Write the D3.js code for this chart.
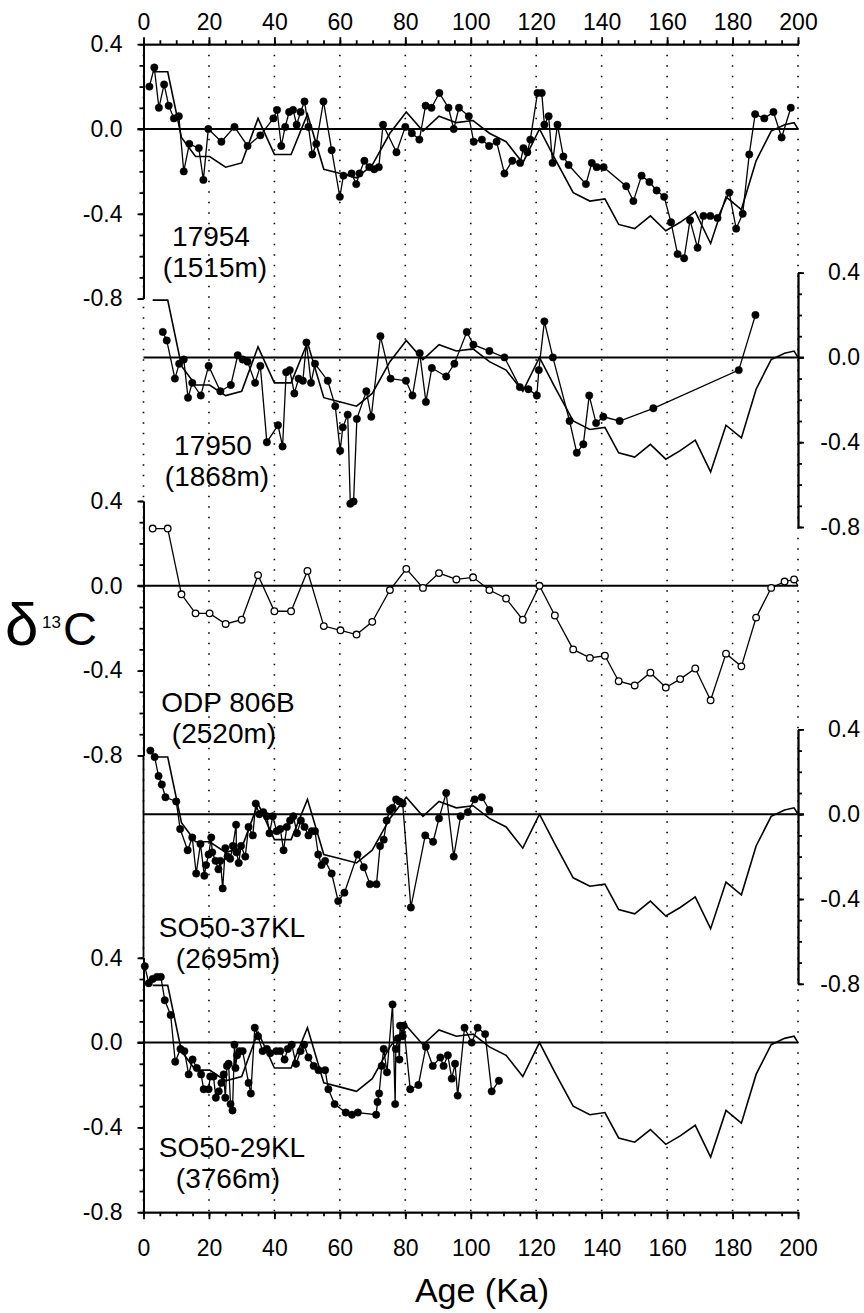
<!DOCTYPE html>
<html>
<head>
<meta charset="utf-8">
<script src="https://cdn.jsdelivr.net/npm/d3@7"></script>
<style>
  body { margin: 0; background: #fff; }
  text { font-family: "Liberation Sans", Arial, sans-serif; fill: #000; }
</style>
</head>
<body>
<div id="chart"></div>
<script>
// age axis ticks (ka)
var ageTicks = [0, 20, 40, 60, 80, 100, 120, 140, 160, 180, 200];
var ageMinorTicks = d3.range(0, 201, 5);
// d13C ticks, same for every panel
var d13cTicks = [0.4, 0.0, -0.4, -0.8];
var d13cMinorTicks = [0.4, 0.3, 0.2, 0.1, 0.0, -0.1, -0.2, -0.3, -0.4, -0.5, -0.6, -0.7, -0.8];

// ODP 806B (2520m) - also drawn as the reference line in the other panels
var odp806B = [
  [2.8, 0.27], [7.4, 0.27], [11.6, -0.04], [15.9, -0.13], [20.2, -0.13], [25.1, -0.18],
  [30.0, -0.16], [35.0, 0.05], [40.0, -0.12], [45.1, -0.12], [50.1, 0.07], [55.1, -0.19],
  [60.2, -0.21], [65.1, -0.23], [69.9, -0.17], [75.3, -0.02], [80.3, 0.08], [85.4, -0.01],
  [90.3, 0.06], [95.6, 0.03], [100.7, 0.04], [105.7, -0.02], [110.8, -0.06], [115.9, -0.16],
  [121.0, 0.0], [125.7, -0.14], [131.3, -0.30], [136.4, -0.34], [141.0, -0.33], [145.2, -0.45],
  [150.1, -0.47], [154.9, -0.41], [159.6, -0.48], [164.0, -0.44], [168.6, -0.39], [173.3, -0.54],
  [178.0, -0.32], [182.7, -0.38], [187.2, -0.15], [191.8, -0.01], [195.9, 0.02], [198.8, 0.03],
  [200.0, 0.0]
];

// 17954 (1515m)
var core17954 = [
  [1.8, 0.20], [3.3, 0.29], [4.7, 0.10], [6.3, 0.21], [7.7, 0.11], [9.3, 0.05], [10.8, 0.06],
  [12.3, -0.20], [14.0, -0.07], [16.9, -0.09], [18.3, -0.24], [19.8, 0.0], [23.8, -0.06],
  [27.8, 0.01], [31.8, -0.08], [35.7, -0.03], [39.7, 0.05], [40.8, 0.09], [42.1, -0.08],
  [43.3, 0.01], [44.5, 0.08], [45.7, 0.09], [46.8, 0.02], [48.0, 0.08], [49.2, 0.13],
  [50.4, 0.01], [51.6, -0.12], [52.8, -0.07], [55.0, 0.13], [57.5, -0.10], [60.0, -0.32],
  [61.1, -0.22], [63.6, -0.21], [65.0, -0.26], [66.0, -0.21], [67.5, -0.15], [69.0, -0.18],
  [70.5, -0.19], [71.9, -0.18], [73.2, 0.02], [77.3, -0.11], [80.0, 0.01], [82.0, -0.02],
  [84.3, -0.05], [86.2, 0.11], [88.0, 0.10], [90.4, 0.17], [93.2, 0.10], [94.8, 0.0],
  [96.4, 0.10], [99.4, 0.06], [100.9, -0.06], [103.4, -0.05], [105.6, -0.08], [107.9, -0.06],
  [110.3, -0.21], [112.7, -0.15], [115.1, -0.16], [116.1, -0.09], [117.3, -0.11], [118.2, -0.05],
  [120.4, 0.17], [121.7, 0.17], [122.5, 0.02], [123.8, 0.06], [125.0, -0.16], [126.5, 0.02],
  [128.3, -0.13], [129.9, -0.17], [135.2, -0.26], [137.0, -0.16], [138.5, -0.18], [140.6, -0.18],
  [147.5, -0.27], [149.7, -0.34], [152.2, -0.22], [154.6, -0.25], [156.8, -0.29], [159.1, -0.32],
  [161.2, -0.44], [163.2, -0.59], [165.2, -0.61], [167.0, -0.43], [169.3, -0.56], [171.1, -0.41],
  [173.2, -0.41], [175.4, -0.42], [179.0, -0.30], [181.1, -0.47], [183.1, -0.40], [185.1, -0.12],
  [186.9, 0.07], [189.7, 0.05], [192.5, 0.08], [195.0, -0.04], [197.8, 0.10]
];

// 17950 (1868m)
var core17950 = [
  [5.9, 0.12], [7.1, 0.08], [9.6, -0.10], [10.9, -0.03], [12.3, -0.01], [13.6, -0.19],
  [14.9, -0.12], [17.5, -0.18], [19.9, -0.04], [23.5, -0.16], [26.7, -0.13], [28.8, 0.01],
  [30.3, -0.01], [31.8, -0.02], [34.1, -0.12], [35.7, -0.04], [37.7, -0.40], [41.1, -0.32],
  [42.5, -0.42], [43.6, -0.07], [44.7, -0.06], [46.1, -0.17], [47.4, -0.10], [48.7, -0.11],
  [49.8, 0.07], [51.2, -0.12], [52.4, -0.03], [56.3, -0.11], [58.6, -0.23], [60.1, -0.44],
  [60.9, -0.33], [62.4, -0.27], [63.2, -0.69], [64.2, -0.68], [65.2, -0.29], [68.1, -0.16],
  [69.6, -0.28], [72.4, 0.10], [75.5, -0.10], [80.2, -0.11], [82.2, -0.18], [84.4, 0.02],
  [86.3, -0.21], [88.1, -0.05], [92.5, -0.09], [95.0, -0.03], [98.8, 0.12], [100.8, 0.06],
  [105.7, 0.03], [110.3, 0.0], [115.0, -0.14], [117.6, -0.15], [120.2, -0.18], [120.8, -0.06],
  [122.5, 0.17], [125.1, 0.0], [130.2, -0.30], [132.4, -0.45], [134.4, -0.41], [136.2, -0.18],
  [138.3, -0.31], [140.5, -0.28], [145.5, -0.30], [155.8, -0.24], [181.9, -0.06], [187.0, 0.20]
];

// SO50-37KL (2695m)
var coreSO50_37 = [
  [2.1, 0.30], [3.4, 0.27], [4.6, 0.18], [5.6, 0.14], [6.7, 0.08], [10.0, 0.06], [11.2, -0.07],
  [13.5, -0.17], [14.9, -0.11], [16.1, -0.28], [17.4, -0.14], [18.6, -0.29], [19.1, -0.24],
  [19.9, -0.19], [20.7, -0.11], [21.0, -0.18], [22.0, -0.22], [22.9, -0.26], [23.5, -0.22],
  [24.2, -0.35], [25.0, -0.16], [25.7, -0.20], [26.5, -0.21], [27.3, -0.15], [28.3, -0.05],
  [28.4, -0.18], [29.1, -0.23], [29.8, -0.15], [31.1, -0.20], [32.1, -0.06], [33.4, -0.10],
  [34.3, 0.05], [35.4, 0.0], [36.6, 0.01], [37.7, -0.01], [38.5, -0.09], [39.5, -0.01],
  [40.7, -0.08], [41.8, -0.07], [42.8, -0.17], [43.8, -0.06], [44.8, -0.03], [45.8, -0.01],
  [46.9, -0.09], [48.1, -0.03], [49.2, -0.06], [50.4, -0.10], [51.4, -0.08], [52.4, -0.08],
  [53.4, -0.19], [54.4, -0.24], [55.5, -0.22], [57.5, -0.28], [59.5, -0.41], [61.4, -0.37],
  [65.4, -0.19], [67.3, -0.25], [69.2, -0.33], [71.2, -0.33], [72.3, -0.15], [73.4, -0.12],
  [74.3, -0.03], [75.3, 0.02], [76.1, 0.03], [77.2, 0.07], [78.2, 0.06], [79.2, 0.05],
  [81.7, -0.44], [86.1, -0.10], [88.5, -0.13], [90.3, -0.02], [92.5, 0.10], [94.8, -0.20],
  [96.9, -0.01], [99.1, 0.01], [101.2, 0.07], [103.4, 0.08], [105.7, 0.02]
];

// SO50-29KL (3766m)
var coreSO50_29 = [
  [0.4, 0.36], [1.6, 0.28], [2.8, 0.30], [4.1, 0.31], [5.3, 0.31], [6.5, 0.20], [8.3, 0.13],
  [9.7, -0.09], [11.3, -0.03], [12.5, -0.04], [13.8, -0.15], [15.0, -0.08], [16.3, -0.12],
  [17.6, -0.15], [18.4, -0.22], [19.9, -0.22], [20.4, -0.16], [21.4, -0.16], [22.1, -0.26],
  [23.0, -0.23], [23.8, -0.19], [24.5, -0.15], [25.0, -0.26], [25.5, -0.11], [26.0, -0.10],
  [26.6, -0.29], [27.2, -0.32], [27.8, -0.01], [28.1, -0.12], [28.6, -0.06], [29.3, -0.04],
  [30.3, -0.04], [32.1, -0.19], [32.8, -0.24], [34.0, 0.07], [35.0, 0.03], [36.4, -0.04],
  [37.7, -0.03], [38.7, -0.05], [40.6, -0.04], [41.8, -0.04], [43.1, -0.08], [44.1, -0.03],
  [45.3, -0.01], [46.6, -0.10], [48.0, -0.04], [49.1, -0.01], [50.4, -0.07], [52.0, -0.11],
  [53.5, -0.13], [55.5, -0.13], [56.5, -0.22], [58.4, -0.29], [61.8, -0.33], [63.7, -0.34],
  [65.5, -0.33], [71.1, -0.34], [71.5, -0.28], [72.0, -0.24], [72.8, -0.11], [73.4, -0.03],
  [74.4, -0.14], [76.1, 0.18], [76.9, -0.29], [77.1, -0.03], [77.7, 0.02], [78.2, -0.08],
  [78.4, 0.08], [79.2, 0.03], [79.5, 0.08], [81.5, -0.22], [84.0, -0.20], [86.3, -0.02],
  [88.4, -0.11], [90.7, -0.07], [91.7, -0.11], [93.0, -0.06], [94.2, -0.17], [95.2, -0.10],
  [96.0, -0.25], [98.1, 0.07], [100.3, 0.0], [102.1, 0.07], [104.4, 0.04], [106.4, -0.23],
  [108.6, -0.18]
];

var coreNames = ["17954", "17950", "ODP 806B", "SO50-37KL", "SO50-29KL"];
var coreDepths = ["(1515m)", "(1868m)", "(2520m)", "(2695m)", "(3766m)"];

var W = 864, H = 1313;
var svg = d3.select("#chart").append("svg")
  .attr("width", W).attr("height", H);

var x = d3.scaleLinear().domain([0, 200]).range([143.5, 798]);
var unit = 212;     // px per 1 permil
var step = 228.4;   // vertical offset between panels
var tickFont = 23;

var panels = [
  { data: core17954, side: "left", open: false, lx: 211, ly: 246 },
  { data: core17950, side: "right", open: false, lx: 213, ly: 455 },
  { data: odp806B, side: "left", open: true, lx: 228, ly: 712 },
  { data: coreSO50_37, side: "right", open: false, lx: 232, ly: 937 },
  { data: coreSO50_29, side: "left", open: false, lx: 232, ly: 1157 }
];
panels.forEach(function(p, i) {
  var zero = 129 + i * step;
  p.y = d3.scaleLinear().domain([-0.8, 0.4]).range([zero + 0.8 * unit, zero - 0.4 * unit]);
});

var yTop = panels[0].y(0.4), yBottom = panels[4].y(-0.8);

// dotted gridlines
svg.append("g").selectAll("line")
  .data(ageTicks).enter().append("line")
  .attr("x1", function(d) { return x(d); })
  .attr("x2", function(d) { return x(d); })
  .attr("y1", yTop).attr("y2", yBottom)
  .attr("stroke", "#000").attr("stroke-width", 1.6)
  .attr("stroke-dasharray", "1.5,9");

// top and bottom age axes
function ageAxis(axisFn, ypos, pad) {
  var g = svg.append("g").attr("transform", "translate(0," + ypos + ")");
  g.append("g").call(axisFn(x).tickValues(ageMinorTicks).tickSize(4).tickSizeOuter(0).tickFormat(""));
  var major = g.append("g").call(axisFn(x).tickValues(ageTicks).tickSize(7).tickSizeOuter(0)
    .tickPadding(pad).tickFormat(d3.format("d")));
  major.selectAll("text").attr("font-size", tickFont).attr("font-family", "Liberation Sans, Arial, sans-serif");
  g.selectAll("path, line").attr("stroke", "#000").attr("stroke-width", 1.8);
}
ageAxis(d3.axisTop, yTop, 7);
ageAxis(d3.axisBottom, yBottom, 20);

// y axes
panels.forEach(function(p) {
  var left = p.side === "left";
  var xpos = left ? x(0) : x(200);
  var axisFn = left ? d3.axisLeft : d3.axisRight;
  var g = svg.append("g").attr("transform", "translate(" + xpos + ",0)");
  g.append("g").call(axisFn(p.y).tickValues(d13cMinorTicks).tickSize(4).tickSizeOuter(0).tickFormat(""));
  var major = g.append("g").call(axisFn(p.y).tickValues(d13cTicks).tickSize(6).tickSizeOuter(0)
    .tickPadding(15).tickFormat(function(d) { return d.toFixed(1); }));
  major.selectAll("text").attr("font-size", tickFont).attr("font-family", "Liberation Sans, Arial, sans-serif");
  if (!left) major.selectAll("text").attr("text-anchor", "end").attr("x", 62);
  g.selectAll("path, line").attr("stroke", "#000").attr("stroke-width", 1.8);
});
// left axis continues between ODP 806B and SO50-29KL
svg.append("line")
  .attr("x1", x(0)).attr("x2", x(0))
  .attr("y1", panels[2].y(-0.8)).attr("y2", panels[4].y(0.4))
  .attr("stroke", "#000").attr("stroke-width", 1.8);

// zero lines
panels.forEach(function(p) {
  svg.append("line")
    .attr("x1", p.side === "left" ? x(0) - 6 : x(0))
    .attr("x2", p.side === "left" ? x(200) : x(200) + 6)
    .attr("y1", p.y(0)).attr("y2", p.y(0))
    .attr("stroke", "#000").attr("stroke-width", 2);
});

// reference line (ODP 806B) behind each other record
panels.forEach(function(p, i) {
  if (i === 2) return;
  svg.append("path")
    .datum(odp806B)
    .attr("fill", "none").attr("stroke", "#000").attr("stroke-width", 1.6)
    .attr("d", d3.line().x(function(d) { return x(d[0]); }).y(function(d) { return p.y(d[1]); }));
});

// records
panels.forEach(function(p) {
  var g = svg.append("g");
  g.append("path")
    .datum(p.data)
    .attr("fill", "none").attr("stroke", "#000").attr("stroke-width", 1.3)
    .attr("d", d3.line().x(function(d) { return x(d[0]); }).y(function(d) { return p.y(d[1]); }));
  g.selectAll("circle")
    .data(p.data.filter(function(d) { return d[0] < 200; }))
    .enter().append("circle")
    .attr("cx", function(d) { return x(d[0]); })
    .attr("cy", function(d) { return p.y(d[1]); })
    .attr("r", p.open ? 3.3 : 3.7)
    .attr("fill", p.open ? "#fff" : "#000")
    .attr("stroke", "#000").attr("stroke-width", p.open ? 1.3 : 0.5);
});

// core labels
panels.forEach(function(p, i) {
  svg.append("text")
    .attr("x", p.lx).attr("y", p.ly)
    .attr("text-anchor", "middle").attr("font-size", 28)
    .text(coreNames[i]);
  svg.append("text")
    .attr("x", p.lx + (i === 0 || i === 1 ? 4 : -4)).attr("y", p.ly + 31)
    .attr("text-anchor", "middle").attr("font-size", 28)
    .text(coreDepths[i]);
});

// y title
var yt = svg.append("text").attr("y", 645);
yt.append("tspan").attr("x", 5).attr("font-size", 60).text("δ");
yt.append("tspan").attr("x", 42).attr("y", 628).attr("font-size", 17).text("13");
yt.append("tspan").attr("x", 63).attr("y", 645).attr("font-size", 47).text("C");

// x title
svg.append("text")
  .attr("x", 482).attr("y", 1302)
  .attr("text-anchor", "middle").attr("font-size", 34)
  .text("Age (Ka)");
</script>
</body>
</html>
